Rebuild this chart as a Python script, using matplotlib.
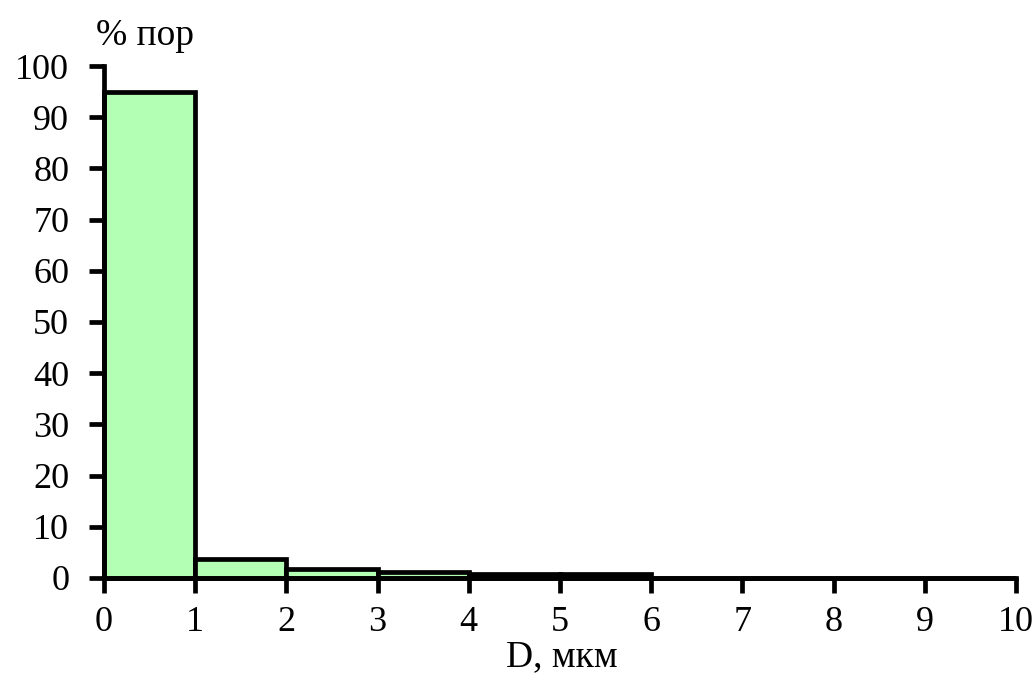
import matplotlib
matplotlib.use("Agg")
import matplotlib.pyplot as plt

# Pore size distribution: share of pores per 1-µm diameter class
bin_left = [0, 1, 2, 3, 4, 5, 6, 7, 8, 9]
pore_share = [95, 3.8, 1.8, 1.1, 0.8, 0.8, 0, 0, 0, 0]
x_ticks = [0, 1, 2, 3, 4, 5, 6, 7, 8, 9, 10]
y_ticks = [0, 10, 20, 30, 40, 50, 60, 70, 80, 90, 100]

plt.rcParams["font.family"] = ["Liberation Serif", "DejaVu Serif"]

fig = plt.figure(figsize=(10.35, 6.87), dpi=100)
ax = fig.add_axes([0.1005, 0.1587, 0.8811, 0.7452])

ax.bar(bin_left, pore_share, width=1.0, align="edge", color="#B3FFB3",
       edgecolor="black", linewidth=3.4, zorder=2, clip_on=False)

ax.set_xlim(0, 10)
ax.set_ylim(0, 100)
ax.set_xticks(x_ticks)
ax.set_yticks(y_ticks)

for side in ("top", "right"):
    ax.spines[side].set_visible(False)
for side in ("left", "bottom"):
    ax.spines[side].set_linewidth(3.4)
    ax.spines[side].set_zorder(3)

ax.tick_params(axis="both", direction="out", length=11, width=3.4,
               labelsize=26, colors="black")
ax.tick_params(axis="x", pad=9)
ax.tick_params(axis="y", pad=14)

fig.text(0.093, 0.935, "% пор", fontsize=27, ha="left", va="baseline")
fig.text(0.543, 0.03, "D, мкм", fontsize=27, ha="center", va="baseline")

fig.savefig("out.png", dpi=100)
